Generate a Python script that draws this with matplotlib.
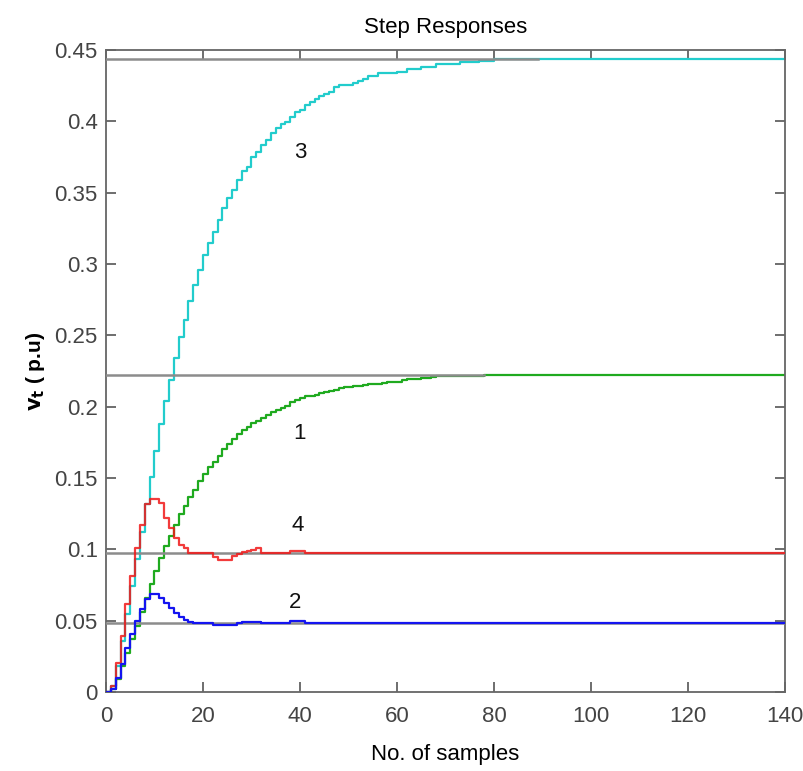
import matplotlib
matplotlib.use("Agg")
import matplotlib.pyplot as plt
from matplotlib import font_manager
import numpy as np

names = {f.name for f in font_manager.fontManager.ttflist}
narrow = 'Liberation Sans Narrow' if 'Liberation Sans Narrow' in names else 'Liberation Sans'
plt.rcParams['font.family'] = [narrow, 'DejaVu Sans']

# ---- data ----
cyan_resp = [0, 0.004, 0.018, 0.036, 0.055, 0.074, 0.093, 0.112, 0.132, 0.151,
             0.169, 0.188, 0.204, 0.219, 0.234, 0.249, 0.261, 0.274, 0.285, 0.296,
             0.306, 0.315, 0.3226, 0.331, 0.3396, 0.3466, 0.3518, 0.3588, 0.3651, 0.368,
             0.3751, 0.3786, 0.3833, 0.3868, 0.392, 0.395, 0.3985, 0.3997, 0.4032, 0.4067,
             0.408, 0.4114, 0.4137, 0.416, 0.4177, 0.4195, 0.4207, 0.4238, 0.4254, 0.4254,
             0.4254, 0.427, 0.4284, 0.430, 0.4319, 0.4319, 0.4336, 0.4336, 0.4336, 0.4336,
             0.4347, 0.4347, 0.4364, 0.4364, 0.4364, 0.4382, 0.4382, 0.4382, 0.4401, 0.4401,
             0.4401, 0.4401, 0.4401, 0.4417, 0.4417, 0.4417, 0.4417, 0.4425, 0.4425, 0.4425]
cyan_final = 0.4436

green_resp = [0, 0.002, 0.009, 0.018, 0.0275, 0.037, 0.0465, 0.056, 0.066, 0.0755,
              0.0845, 0.094, 0.102, 0.1095, 0.117, 0.1245, 0.1305, 0.137, 0.1416, 0.148,
              0.153, 0.158, 0.1615, 0.1655, 0.170, 0.1735, 0.177, 0.181, 0.1835, 0.1855,
              0.1883, 0.190, 0.192, 0.194, 0.196, 0.1975, 0.1988, 0.2005, 0.2034, 0.2045,
              0.206, 0.2077, 0.2077, 0.2085, 0.2093, 0.2100, 0.2110, 0.2120, 0.2130, 0.2140,
              0.2140, 0.2148, 0.2148, 0.2152, 0.2158, 0.2158, 0.2158, 0.2166, 0.2175, 0.2175,
              0.2175, 0.2184, 0.2193, 0.2193, 0.2193, 0.2200, 0.2200, 0.2207, 0.2214, 0.2214,
              0.2214, 0.2214, 0.2214, 0.2214, 0.2218, 0.2218, 0.2218, 0.2218, 0.2222]
green_final = 0.2222

red_resp = [0, 0.004, 0.020, 0.039, 0.062, 0.081, 0.1007, 0.117, 0.132, 0.1352,
            0.1352, 0.1322, 0.1217, 0.1147, 0.1077, 0.103, 0.1007, 0.0976, 0.0972, 0.0972,
            0.0972, 0.0972, 0.0948, 0.0925, 0.0925, 0.0925, 0.0953, 0.0965, 0.0979, 0.0985,
            0.0995, 0.1007, 0.0975, 0.0972, 0.0972, 0.0972, 0.0972, 0.0972, 0.099, 0.099,
            0.099]
red_final = 0.0972

blue_resp = [0, 0.002, 0.010, 0.0195, 0.031, 0.0405, 0.050, 0.0585, 0.065, 0.0687,
             0.0687, 0.0656, 0.0626, 0.0586, 0.0556, 0.0528, 0.0505, 0.0488, 0.0486, 0.0486,
             0.0486, 0.0486, 0.047, 0.047, 0.047, 0.047, 0.047, 0.0486, 0.0493, 0.0493,
             0.0493, 0.0493, 0.0486, 0.0486, 0.0486, 0.0486, 0.0486, 0.0486, 0.050, 0.050,
             0.050]
blue_final = 0.0486

n_samples = 141
ref_levels = [0.4436, 0.2222, 0.0972, 0.0486]
ref_ends = [89, 78, 140, 140]

curve_labels = ['3', '1', '4', '2']
label_x = [40, 40, 39.5, 39]
label_y = [0.378, 0.1815, 0.1165, 0.0625]

x_ticks = [0, 20, 40, 60, 80, 100, 120, 140]
y_ticks = [0, 0.05, 0.1, 0.15, 0.2, 0.25, 0.3, 0.35, 0.4, 0.45]
y_tick_labels = ['0', '0.05', '0.1', '0.15', '0.2', '0.25', '0.3', '0.35', '0.4', '0.45']


def full(resp, final):
    vals = list(resp) + [final] * (n_samples - len(resp))
    return np.array(vals[:n_samples])


k = np.arange(n_samples)
cyan = full(cyan_resp, cyan_final)
green = full(green_resp, green_final)
red = full(red_resp, red_final)
blue = full(blue_resp, blue_final)

fig = plt.figure(figsize=(8.04, 7.71), dpi=100)
ax = fig.add_axes([0.1318, 0.1025, 0.8446, 0.8326])

lw = 1.6
ax.step(k, cyan, where='post', color='#22cccc', lw=lw, zorder=2)
ax.step(k, green, where='post', color='#1faa1f', lw=lw, zorder=2)
gray = '#8c8c8c'
for lvl, end in zip(ref_levels, ref_ends):
    ax.plot([0, end], [lvl, lvl], color=gray, lw=1.8, zorder=3)
ax.step(k, red, where='post', color='#f01818', lw=lw, zorder=4, alpha=0.85)
ax.step(k, blue, where='post', color='#1414f0', lw=lw, zorder=4)

for t, xx, yy in zip(curve_labels, label_x, label_y):
    ax.text(xx, yy, t, fontsize=16, ha='center', va='center', color='#111111')

ax.set_xlim(0, 140)
ax.set_ylim(0, 0.45)
ax.set_xticks(x_ticks)
ax.set_xticklabels([str(v) for v in x_ticks])
ax.set_yticks(y_ticks)
ax.set_yticklabels(y_tick_labels)
ax.tick_params(direction='in', length=7, width=1.2, color='#555555',
               labelsize=16, labelcolor='#444444', top=True, right=True)
ax.tick_params(axis='x', pad=10)
ax.tick_params(axis='y', pad=6)
for s in ax.spines.values():
    s.set_color('#666666')
    s.set_linewidth(1.3)

ax.set_title('Step Responses', fontsize=16, pad=12)
ax.set_xlabel('No. of samples', fontsize=16, labelpad=12)
ax.set_ylabel(r'$\mathbf{v_t}$ ( p.u)', fontsize=15, fontweight='bold', labelpad=5)

fig.savefig('out.png', dpi=100)
